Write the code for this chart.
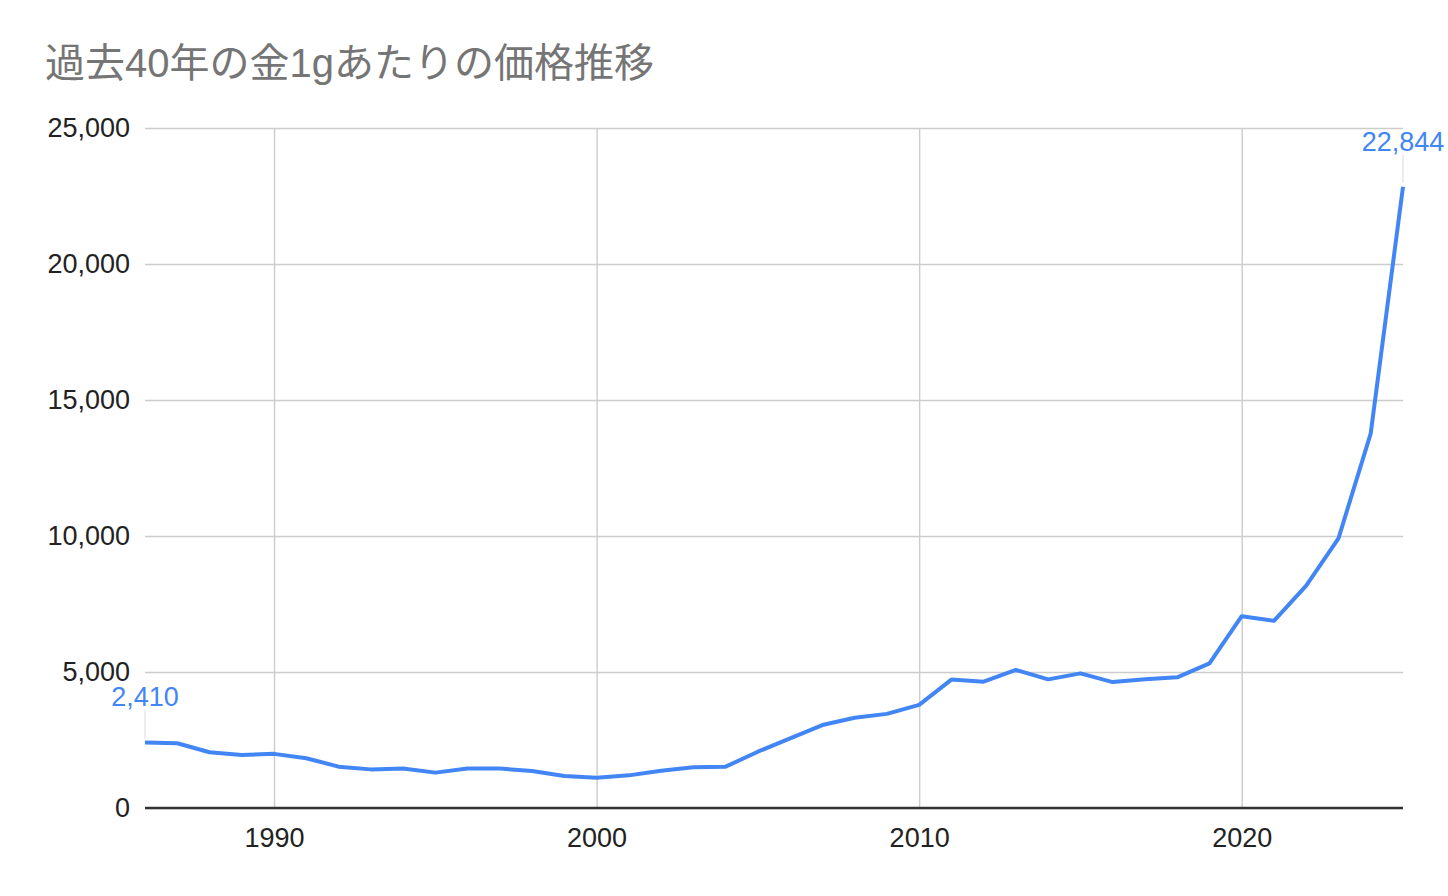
<!DOCTYPE html>
<html>
<head>
<meta charset="utf-8">
<script src="https://cdn.jsdelivr.net/npm/d3@7"></script>
<style>
  body { margin: 0; background: #fff; }
  text { font-family: 'Liberation Sans', Arial, 'Noto Sans CJK JP', sans-serif; }
</style>
</head>
<body>
<div id="chart"></div>
<script>
const title = '過去40年の金1gあたりの価格推移'

const years = [
  1986, 1987, 1988, 1989, 1990, 1991, 1992, 1993, 1994, 1995,
  1996, 1997, 1998, 1999, 2000, 2001, 2002, 2003, 2004, 2005,
  2006, 2007, 2008, 2009, 2010, 2011, 2012, 2013, 2014, 2015,
  2016, 2017, 2018, 2019, 2020, 2021, 2022, 2023, 2024, 2025
]

const prices = [
  2410, 2380, 2050, 1950, 1990, 1830, 1520, 1420, 1450, 1300,
  1450, 1450, 1360, 1180, 1115, 1200, 1370, 1495, 1520, 2070,
  2560, 3050, 3320, 3460, 3790, 4720, 4645, 5075, 4730, 4950,
  4630, 4730, 4805, 5320, 7050, 6880, 8175, 9915, 13775, 22844
]

const xTicks = [1990, 2000, 2010, 2020]
const yTicks = [0, 5000, 10000, 15000, 20000, 25000]

const margin = { top: 128, right: 45, bottom: 88, left: 145 }
const totalWidth = 1448
const totalHeight = 896
const width = totalWidth - margin.left - margin.right
const height = totalHeight - margin.top - margin.bottom

const svg = d3
  .select('#chart')
  .append('svg')
  .attr('width', totalWidth)
  .attr('height', totalHeight)

svg
  .append('text')
  .attr('x', 45)
  .attr('y', 77)
  .attr('font-size', 40)
  .attr('fill', '#757575')
  .text(title)

const g = svg
  .append('g')
  .attr('transform', 'translate(' + margin.left + ',' + margin.top + ')')

const xPositionScale = d3
  .scaleLinear()
  .domain([1986, 2025])
  .range([0, width])

const yPositionScale = d3
  .scaleLinear()
  .domain([0, 25000])
  .range([height, 0])

const datapoints = years.map((year, i) => ({ year: year, price: prices[i] }))

// gridlines
const yAxis = d3
  .axisLeft(yPositionScale)
  .tickValues(yTicks)
  .tickSize(-width)
  .tickPadding(15)
  .tickFormat(d3.format(','))

g.append('g')
  .attr('class', 'axis y-axis')
  .call(yAxis)

const xAxis = d3
  .axisBottom(xPositionScale)
  .tickValues(xTicks)
  .tickSize(-height)
  .tickPadding(12)
  .tickFormat(d3.format('d'))

g.append('g')
  .attr('class', 'axis x-axis')
  .attr('transform', 'translate(0,' + height + ')')
  .call(xAxis)

g.selectAll('.axis .domain').remove()
g.selectAll('.axis line')
  .attr('stroke', '#cccccc')
  .attr('stroke-width', 1.4)
g.selectAll('.axis text')
  .attr('font-size', 27)
  .attr('fill', '#222')
  .attr('font-family', "'Liberation Sans', Arial, sans-serif")
g.selectAll('.x-axis text').attr('dy', '1em')

// baseline
g.append('line')
  .attr('x1', 0)
  .attr('x2', width)
  .attr('y1', yPositionScale(0))
  .attr('y2', yPositionScale(0))
  .attr('stroke', '#333')
  .attr('stroke-width', 2.5)

const line = d3
  .line()
  .x(d => xPositionScale(d.year))
  .y(d => yPositionScale(d.price))

g.append('path')
  .datum(datapoints)
  .attr('d', line)
  .attr('fill', 'none')
  .attr('stroke', '#4285f4')
  .attr('stroke-width', 4)
  .attr('stroke-linejoin', 'round')

// labels on first and last points
const labelled = [datapoints[0], datapoints[datapoints.length - 1]]

g.selectAll('.leader')
  .data(labelled)
  .enter()
  .append('line')
  .attr('class', 'leader')
  .attr('x1', d => xPositionScale(d.year))
  .attr('x2', d => xPositionScale(d.year))
  .attr('y1', d => yPositionScale(d.price) - 4)
  .attr('y2', d => yPositionScale(d.price) - 32)
  .attr('stroke', '#e6e6e6')
  .attr('stroke-width', 1.5)

g.selectAll('.point-label')
  .data(labelled)
  .enter()
  .append('text')
  .attr('class', 'point-label')
  .attr('x', d => xPositionScale(d.year))
  .attr('y', d => yPositionScale(d.price) - 36)
  .attr('text-anchor', 'middle')
  .attr('font-size', 27)
  .attr('fill', '#4285f4')
  .text(d => d3.format(',')(d.price))
</script>
</body>
</html>
